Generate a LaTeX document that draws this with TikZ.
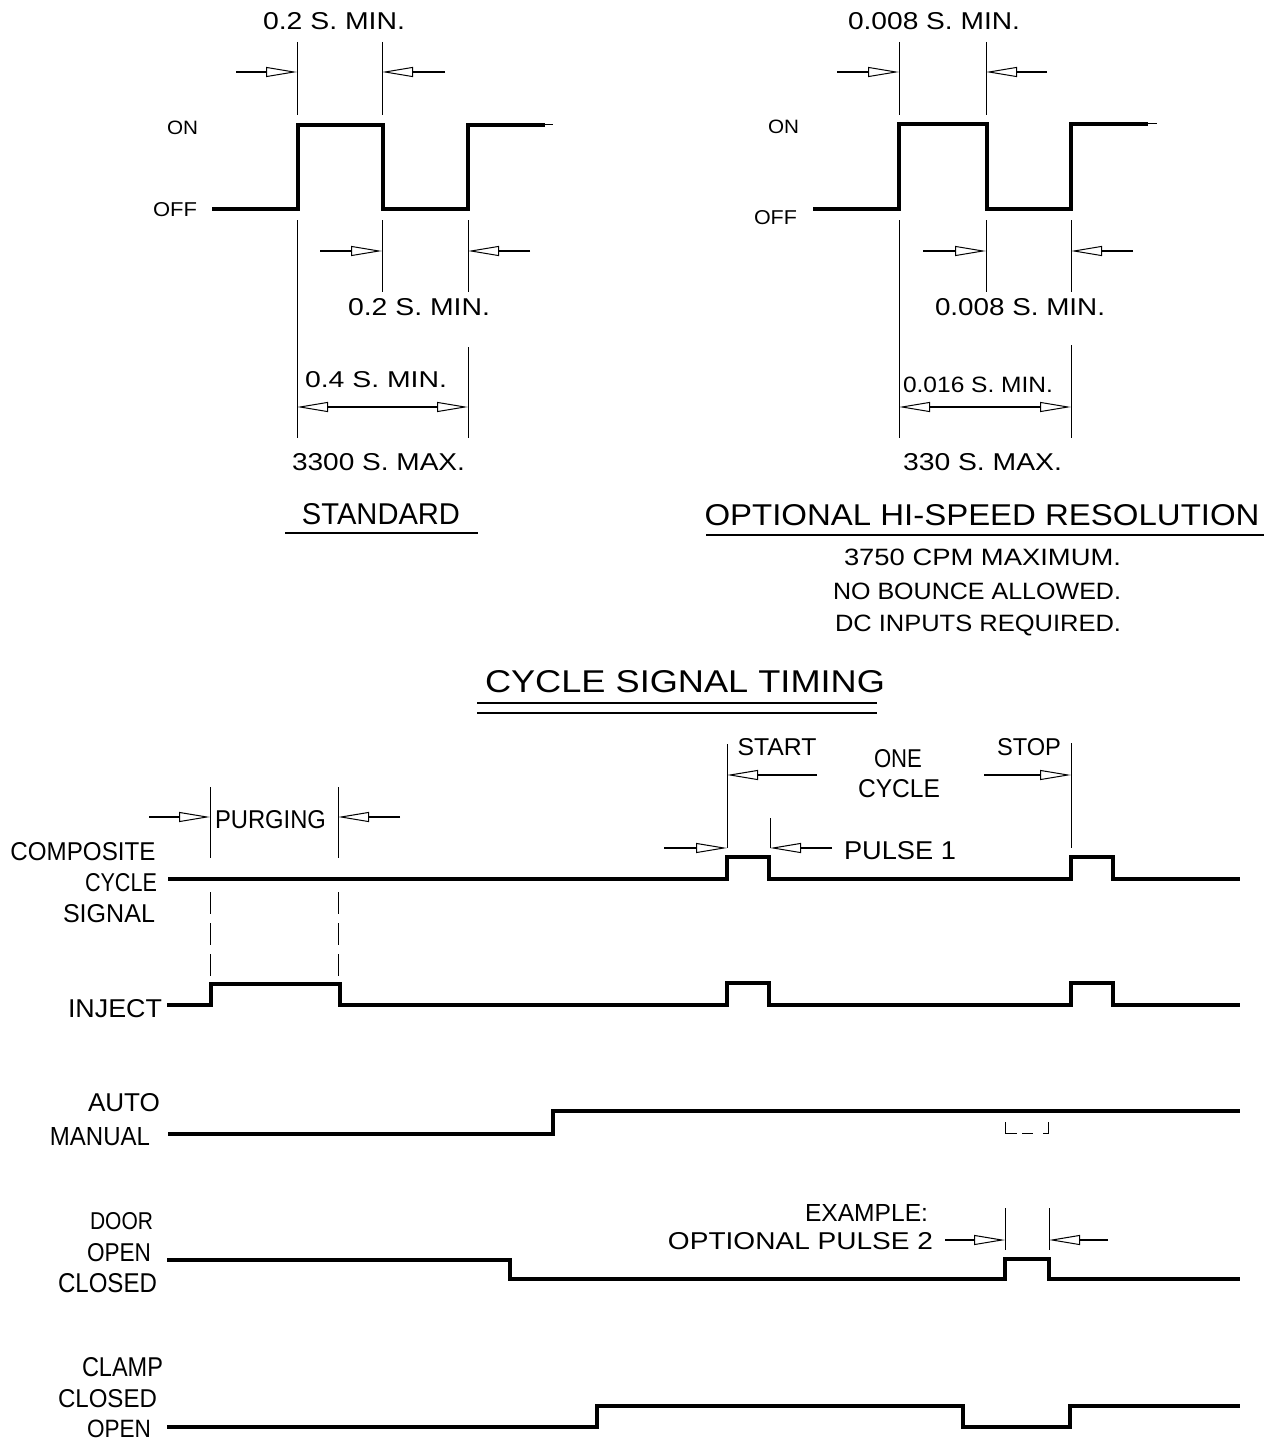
\documentclass[tikz,border=0pt]{standalone}
\usepackage{fontspec}
\usepackage{graphicx}
\setmainfont{Liberation Sans}
\usetikzlibrary{arrows.meta}
\newcommand\fitt[3]{\resizebox{#1pt}{#2pt}{#3}}
\tikzset{
  lbl/.style={inner sep=0pt, anchor=base, font=\fontsize{24}{24}\selectfont},
  sig/.style={line width=3.2pt, line join=miter},
  wave/.style={line width=4pt, line join=miter},
  ext/.style={line width=1pt},
  opentip/.tip={Triangle[open,length=31pt,width=10pt,line width=1pt]},
  dimarr/.style={line width=1.1pt, -opentip},
  ddimarr/.style={line width=1.1pt, opentip-opentip},
  uline/.style={line width=1.6pt},
  purgedash/.style={line width=1pt, dash pattern=on 22pt off 9pt},
}
\begin{document}
\begin{tikzpicture}[x=1pt,y=-1pt]
\useasboundingbox (0,0) rectangle (1276,1442);

% ---------------- STANDARD ----------------
\node[lbl] (tA1) at (334,30) {\fitt{142}{17}{0.2 S. MIN.}};
\node[lbl] (tA2) at (182.5,135) {\fitt{31}{13.5}{ON}};
\node[lbl] (tA3) at (175,217) {\fitt{44}{14}{OFF}};
\node[lbl] (tA4) at (419,315) {\fitt{142}{17}{0.2 S. MIN.}};
\node[lbl] (tA5) at (376,387) {\fitt{142}{16}{0.4 S. MIN.}};
\node[lbl] (tA6) at (378.5,470) {\fitt{173}{17}{3300 S. MAX.}};
\node[lbl] (tA7) at (381,524) {\fitt{158}{21}{STANDARD}};
\draw[uline] (285,533) -- (478,533);

\draw[wave] (212,209) -- (298,209) -- (298,125) -- (383,125) -- (383,209)
  -- (468,209) -- (468,125) -- (545,125);
\draw[ext] (545,125) -- (553,125);
\draw[ext] (297,42) -- (297,115);
\draw[ext] (382,42) -- (382,115);
\draw[dimarr] (236,72) -- (297,72);
\draw[dimarr] (445,72) -- (382,72);
\draw[ext] (297,220) -- (297,438);
\draw[ext] (382,220) -- (382,292);
\draw[ext] (468,220) -- (468,292);
\draw[ext] (468,347) -- (468,438);
\draw[dimarr] (320,251) -- (382,251);
\draw[dimarr] (530,251) -- (468,251);
\draw[ddimarr] (297,407) -- (468,407);

% ---------------- HI-SPEED ----------------
\node[lbl] (tB1) at (934,30) {\fitt{172}{17}{0.008 S. MIN.}};
\node[lbl] (tB2) at (783.5,134) {\fitt{31}{13.5}{ON}};
\node[lbl] (tB3) at (775.5,224) {\fitt{43}{14}{OFF}};
\node[lbl] (tB4) at (1020,315) {\fitt{170}{17}{0.008 S. MIN.}};
\node[lbl] (tB5) at (978,392) {\fitt{150}{15.5}{0.016 S. MIN.}};
\node[lbl] (tB6) at (982.5,470) {\fitt{159}{17}{330 S. MAX.}};
\node[lbl] (tB7) at (982,525) {\fitt{555}{21}{OPTIONAL HI-SPEED RESOLUTION}};
\draw[uline] (706,535) -- (1264,535);
\node[lbl] (tB8) at (982.5,565) {\fitt{277}{16.5}{3750 CPM MAXIMUM.}};
\node[lbl] (tB9) at (977,599) {\fitt{288}{16.5}{NO BOUNCE ALLOWED.}};
\node[lbl] (tB10) at (978,631) {\fitt{286}{16.5}{DC INPUTS REQUIRED.}};

\draw[wave] (813,209) -- (899,209) -- (899,124) -- (987,124) -- (987,209)
  -- (1071,209) -- (1071,124) -- (1148,124);
\draw[ext] (1148,124) -- (1157,124);
\draw[ext] (899,42) -- (899,115);
\draw[ext] (986,42) -- (986,115);
\draw[dimarr] (837,72) -- (899,72);
\draw[dimarr] (1047,72) -- (986,72);
\draw[ext] (899,220) -- (899,438);
\draw[ext] (986,220) -- (986,292);
\draw[ext] (1071,220) -- (1071,292);
\draw[ext] (1071,345) -- (1071,438);
\draw[dimarr] (923,251) -- (986,251);
\draw[dimarr] (1133,251) -- (1071,251);
\draw[ddimarr] (899,407) -- (1071,407);

% ---------------- CYCLE SIGNAL TIMING ----------------
\node[lbl] (tC) at (685,692) {\fitt{400}{22}{CYCLE SIGNAL TIMING}};
\draw[uline] (477,703) -- (877,703);
\draw[uline] (477,713) -- (877,713);

% labels
\node[lbl] (lComp) at (83,860) {\fitt{145}{18}{COMPOSITE}};
\node[lbl] (lCyc) at (121,891) {\fitt{72}{18}{CYCLE}};
\node[lbl] (lSig) at (109,922) {\fitt{92}{18}{SIGNAL}};
\node[lbl] (lInj) at (115,1017) {\fitt{94}{18}{INJECT}};
\node[lbl] (lAuto) at (124,1111) {\fitt{72}{18}{AUTO}};
\node[lbl] (lMan) at (100,1145) {\fitt{100}{18}{MANUAL}};
\node[lbl] (lDoor) at (121.5,1229) {\fitt{63}{17}{DOOR}};
\node[lbl] (lDOpen) at (119,1261) {\fitt{64}{18}{OPEN}};
\node[lbl] (lDClosed) at (107.5,1292) {\fitt{99}{19}{CLOSED}};
\node[lbl] (lClamp) at (122.5,1376) {\fitt{81}{19}{CLAMP}};
\node[lbl] (lCClosed) at (107.5,1407) {\fitt{99}{18}{CLOSED}};
\node[lbl] (lCOpen) at (119,1437) {\fitt{64}{17.5}{OPEN}};

% purging
\node[lbl] (tPurg) at (270.5,828) {\fitt{111}{18}{PURGING}};
\draw[ext] (210,787) -- (210,858);
\draw[ext] (338,787) -- (338,858);
\draw[dimarr] (149,817) -- (210,817);
\draw[dimarr] (400,817) -- (338,817);
\draw[purgedash] (210,892) -- (210,977);
\draw[purgedash] (338,892) -- (338,977);

% start / stop / one cycle
\node[lbl] (tStart) at (777,755) {\fitt{79}{17}{START}};
\node[lbl] (tOne) at (898,767) {\fitt{48}{18}{ONE}};
\node[lbl] (tCycle) at (899,797) {\fitt{82}{18}{CYCLE}};
\node[lbl] (tStop) at (1029,755) {\fitt{64}{17}{STOP}};
\draw[ext] (727,744) -- (727,848);
\draw[dimarr] (817,775) -- (727,775);
\draw[ext] (1071,743) -- (1071,848);
\draw[dimarr] (984,775) -- (1071,775);
\node[lbl] (tPulse1) at (900,859) {\fitt{112}{18}{PULSE 1}};
\draw[dimarr] (664,848) -- (727,848);
\draw[ext] (770,818) -- (770,848);
\draw[dimarr] (832,848) -- (770,848);

% pulse 2
\node[lbl] (tEx) at (866.5,1221) {\fitt{123}{17}{EXAMPLE:}};
\node[lbl] (tOpt2) at (800.5,1249) {\fitt{265}{17}{OPTIONAL PULSE 2}};
\draw[dimarr] (945,1240) -- (1005,1240);
\draw[ext] (1005,1208) -- (1005,1250);
\draw[ext] (1049,1208) -- (1049,1250);
\draw[dimarr] (1108,1240) -- (1049,1240);

% signals
\draw[sig] (168,879) -- (727,879) -- (727,857) -- (769,857) -- (769,879)
  -- (1071,879) -- (1071,857) -- (1113,857) -- (1113,879) -- (1240,879);
\draw[sig] (167,1005) -- (211,1005) -- (211,984) -- (340,984) -- (340,1005)
  -- (727,1005) -- (727,983) -- (769,983) -- (769,1005)
  -- (1071,1005) -- (1071,983) -- (1113,983) -- (1113,1005) -- (1240,1005);
\draw[sig] (168,1134) -- (553,1134) -- (553,1111) -- (1240,1111);
\draw[ext] (1005,1122) -- (1005,1133) -- (1017,1133);
\draw[ext] (1022,1133) -- (1033,1133);
\draw[ext] (1043,1133) -- (1048,1133) -- (1048,1122);
\draw[sig] (167,1260) -- (510,1260) -- (510,1279) -- (1005,1279) -- (1005,1259)
  -- (1049,1259) -- (1049,1279) -- (1240,1279);
\draw[sig] (167,1427) -- (597,1427) -- (597,1406) -- (963,1406) -- (963,1427)
  -- (1070,1427) -- (1070,1406) -- (1240,1406);
\end{tikzpicture}
\end{document}
